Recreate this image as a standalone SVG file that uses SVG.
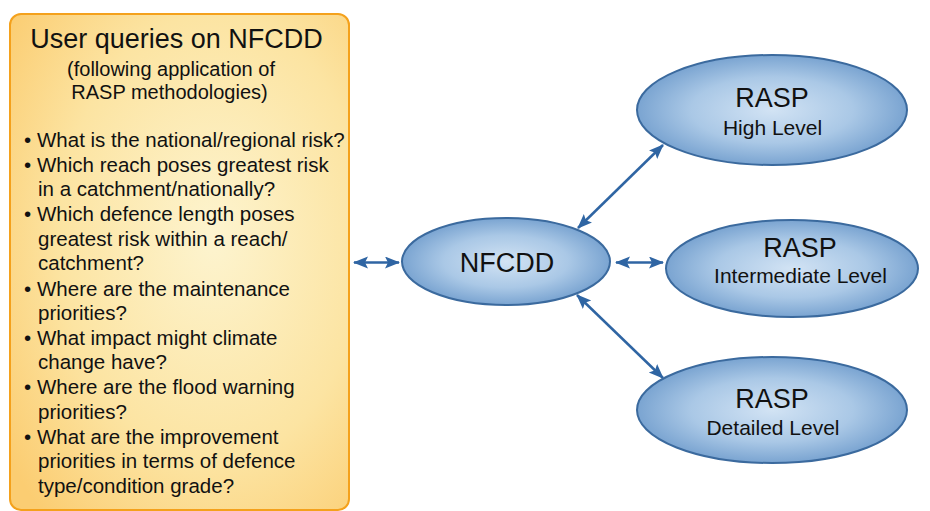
<svg xmlns="http://www.w3.org/2000/svg" width="930" height="511" viewBox="0 0 930 511">
<defs>
<radialGradient id="gBox" cx="0.6" cy="0.45" r="0.75">
<stop offset="0" stop-color="#fdf4cf"/>
<stop offset="0.6" stop-color="#fce4a2"/>
<stop offset="1" stop-color="#fbcd72"/>
</radialGradient>
<radialGradient id="gEll" cx="0.5" cy="0.5" r="0.5">
<stop offset="0" stop-color="#d2e3f4"/>
<stop offset="0.6" stop-color="#aac8e6"/>
<stop offset="1" stop-color="#7aa4d1"/>
</radialGradient>
<marker id="ah" markerUnits="userSpaceOnUse" markerWidth="16" markerHeight="14" refX="14" refY="6" orient="auto-start-reverse">
<path d="M0,0 L15,6 L0,12 L3,6 z" fill="#2f65a3"/>
</marker>
<style>
.ell{fill:url(#gEll);stroke:#3b6a9e;stroke-width:2}
.t{font-family:"Liberation Sans",Arial,sans-serif;fill:#111}
.big{font-size:27px;text-anchor:middle}
.sub{font-size:20px;text-anchor:middle}
.lv{font-size:21px;text-anchor:middle}
.bl{font-size:20.5px}
.con{stroke:#2f65a3;stroke-width:2.5;fill:none;marker-start:url(#ah);marker-end:url(#ah)}
</style>
</defs>
<rect width="930" height="511" fill="#ffffff"/>
<g id="queries">
<rect x="10" y="14" width="339" height="496" rx="11" ry="11" fill="url(#gBox)" stroke="#f4a11c" stroke-width="2"/>
<text class="t big" x="176.5" y="48">User queries on NFCDD</text>
<text class="t sub" x="171" y="76">(following application of</text>
<text class="t sub" x="169.5" y="99">RASP methodologies)</text>
<g class="t bl">
<text x="24" y="147">•</text><text x="37" y="147">What is the national/regional risk?</text>
<text x="24" y="171.5">•</text><text x="37" y="171.5">Which reach poses greatest risk</text>
<text x="38" y="196">in a catchment/nationally?</text>
<text x="24" y="221">•</text><text x="37" y="221">Which defence length poses</text>
<text x="38" y="245.5">greatest risk within a reach/</text>
<text x="38" y="270">catchment?</text>
<text x="24" y="295.5">•</text><text x="37" y="295.5">Where are the maintenance</text>
<text x="38" y="320">priorities?</text>
<text x="24" y="344.5">•</text><text x="37" y="344.5">What impact might climate</text>
<text x="38" y="369">change have?</text>
<text x="24" y="394">•</text><text x="37" y="394">Where are the flood warning</text>
<text x="38" y="418.5">priorities?</text>
<text x="24" y="443.5">•</text><text x="37" y="443.5">What are the improvement</text>
<text x="38" y="468">priorities in terms of defence</text>
<text x="38" y="492.5">type/condition grade?</text>
</g>
</g>
<g id="connectors">
<line class="con" x1="354" y1="262.5" x2="399" y2="262.5"/>
<line class="con" x1="616" y1="262.5" x2="663" y2="262.5"/>
<line class="con" x1="578" y1="228" x2="663" y2="145"/>
<line class="con" x1="577" y1="295" x2="663" y2="378"/>
</g>
<g id="nfcdd">
<ellipse class="ell" cx="506" cy="261.5" rx="104" ry="43.5"/>
<text class="t big" x="507" y="271.5">NFCDD</text>
</g>
<g id="rasp-high">
<ellipse class="ell" cx="772" cy="110" rx="135" ry="55"/>
<text class="t big" x="772" y="107">RASP</text>
<text class="t lv" x="772.5" y="135">High Level</text>
</g>
<g id="rasp-intermediate">
<ellipse class="ell" cx="792" cy="268.5" rx="126" ry="48.5"/>
<text class="t big" x="800" y="257">RASP</text>
<text class="t lv" x="800.5" y="283">Intermediate Level</text>
</g>
<g id="rasp-detailed">
<ellipse class="ell" cx="772" cy="410" rx="135" ry="53"/>
<text class="t big" x="772" y="408">RASP</text>
<text class="t lv" x="773" y="435">Detailed Level</text>
</g>
</svg>
